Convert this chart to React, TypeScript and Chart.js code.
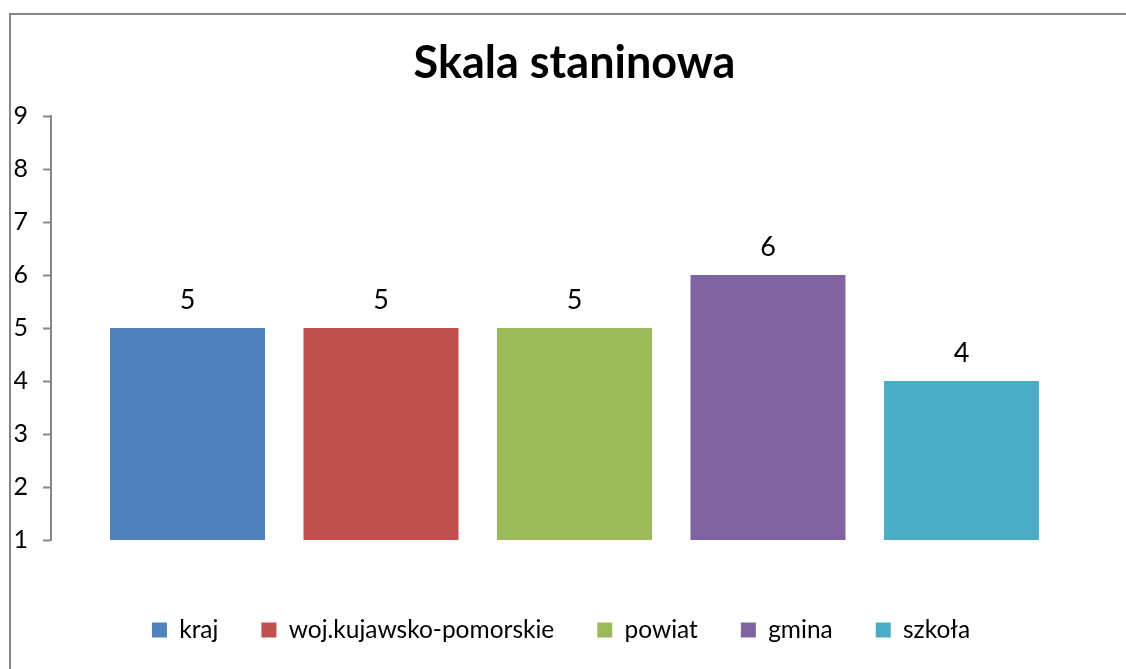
import { useEffect, useRef } from "react";
import { Chart, registerables } from "chart.js";

Chart.register(...registerables);

const titleText = "Skala staninowa";
const categories = [""];
const seriesNames = ["kraj", "woj.kujawsko-pomorskie", "powiat", "gmina", "szkoła"];
const seriesValues = [5, 5, 5, 6, 4];
const seriesColors = ["#4F81BD", "#C0504D", "#9BBB59", "#8064A2", "#4BACC6"];
const yMin = 1;
const yMax = 9;
const yStep = 1;

const FONT = "Lato";

const dataLabelsPlugin = {
  id: "dataLabels",
  afterDatasetsDraw(chart: any) {
    const ctx = chart.ctx;
    ctx.save();
    ctx.font = `27px ${FONT}`;
    ctx.fillStyle = "#000";
    ctx.textAlign = "center";
    ctx.textBaseline = "alphabetic";
    chart.data.datasets.forEach((ds: any, i: number) => {
      const meta = chart.getDatasetMeta(i);
      meta.data.forEach((el: any, j: number) => {
        ctx.fillText(String(ds.data[j]), el.x, el.y - 19);
      });
    });
    ctx.restore();
  },
};

const framePlugin = {
  id: "frame",
  beforeDraw(chart: any) {
    const ctx = chart.ctx;
    ctx.save();
    ctx.strokeStyle = "#878787";
    ctx.lineWidth = 2;
    ctx.beginPath();
    ctx.moveTo(10, chart.height + 5);
    ctx.lineTo(10, 14);
    ctx.lineTo(chart.width + 5, 14);
    ctx.stroke();
    ctx.restore();
  },
};

export default function App() {
  const canvasRef = useRef<HTMLCanvasElement | null>(null);

  useEffect(() => {
    let chart: Chart | null = null;
    let cancelled = false;
    const make = () => {
      if (cancelled || !canvasRef.current) return;
      chart = new Chart(canvasRef.current, {
        type: "bar",
        data: {
          labels: categories,
          datasets: seriesNames.map((name, i) => ({
            label: name,
            data: [seriesValues[i]],
            backgroundColor: seriesColors[i],
            borderWidth: 0,
            categoryPercentage: 0.924,
            barPercentage: 0.801,
            yAxisID: "y",
          })),
        },
        options: {
          animation: false,
          responsive: false,
          devicePixelRatio: 1,
          events: [],
          layout: { padding: { left: 0, right: 4, top: 0, bottom: 16.75 } },
          plugins: {
            tooltip: { enabled: false },
            title: {
              display: true,
              text: titleText,
              fullSize: false,
              color: "#000",
              font: { family: FONT, size: 45, weight: "bold" },
              padding: { top: 36, bottom: 26 },
            },
            legend: {
              position: "bottom",
              labels: {
                color: "#000",
                font: { family: FONT, size: 24.5 },
                boxWidth: 15,
                boxHeight: 15,
                padding: 43,
              },
            },
          },
          scales: {
            x: {
              display: true,
              grid: { display: false },
              border: { display: false },
              ticks: { display: false },
              afterFit: (s: any) => {
                s.height = 34.75;
              },
            },
            y: {
              position: "left",
              min: yMin,
              max: yMax,
              ticks: {
                stepSize: yStep,
                color: "#000",
                font: { family: FONT, size: 25 },
                crossAlign: "near",
                padding: 15,
              },
              grid: {
                display: true,
                drawOnChartArea: false,
                drawTicks: true,
                tickLength: 8,
                tickColor: "#868686",
                tickWidth: 2,
              },
              border: { display: true, color: "#868686", width: 2 },
              afterFit: (s: any) => {
                s.width = 51;
              },
            },
            y2: {
              position: "right",
              display: true,
              grid: { display: false },
              border: { display: false },
              ticks: { display: false },
              afterFit: (s: any) => {
                s.width = 24;
              },
            },
          },
        },
        plugins: [framePlugin, dataLabelsPlugin],
      } as any);
    };
    const fontsReady = (document as any).fonts
      ? Promise.all([
          (document as any).fonts.load(`bold 45px ${FONT}`),
          (document as any).fonts.load(`24px ${FONT}`),
        ]).catch(() => null)
      : Promise.resolve(null);
    fontsReady.then(make);
    return () => {
      cancelled = true;
      if (chart) chart.destroy();
    };
  }, []);

  return (
    <div
      style={{
        position: "fixed",
        left: 0,
        top: 0,
        width: 1126,
        height: 669,
        overflow: "hidden",
        background: "#fff",
      }}
    >
      <canvas ref={canvasRef} width={1126} height={669} style={{ display: "block" }} />
    </div>
  );
}
